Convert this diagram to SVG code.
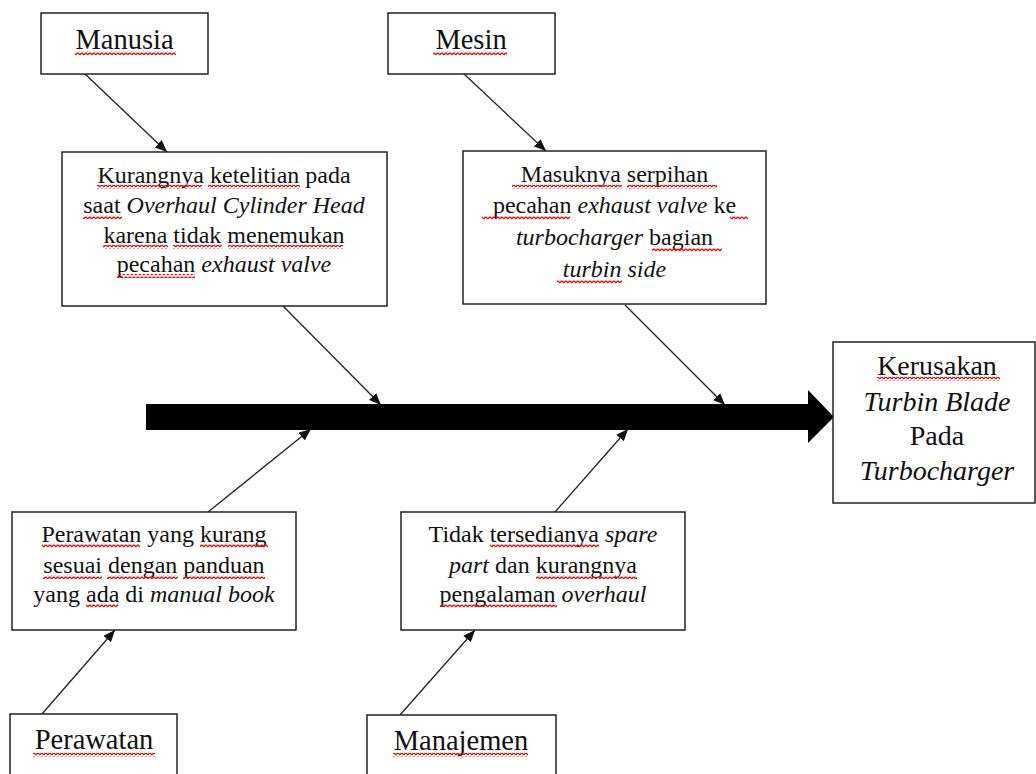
<svg xmlns="http://www.w3.org/2000/svg" width="1036" height="774" viewBox="0 0 1036 774">
<style>
.box{fill:#fff;stroke:#222;stroke-width:1.5}
.t{font-family:"Liberation Serif","Times New Roman",serif;fill:#111;text-anchor:middle}
.h{font-size:28.5px}
.b{font-size:24px}
.k{font-size:28px}
.i{font-style:italic}
.ln{stroke:#222;stroke-width:1.3;fill:none;marker-end:url(#ah)}
.sq{fill:url(#wave)}
</style>
<defs>
<marker id="ah" markerUnits="userSpaceOnUse" markerWidth="13" markerHeight="10" refX="12" refY="5" orient="auto">
<path d="M0,0 L12,5 L0,10 z" fill="#111"/>
</marker>
<pattern id="wave" patternUnits="userSpaceOnUse" width="4" height="4">
<path d="M0,3 L1,1.5 L2,1 L3,2 L4,3" stroke="#e01010" stroke-width="1.3" fill="none"/>
</pattern>
</defs>

<g id="connectors">
<polygon points="146,404 808,404 808,390 834,417 808,443 808,430 146,430" fill="#000"/>
<line class="ln" x1="84" y1="73" x2="167" y2="152"/>
<line class="ln" x1="463" y1="73" x2="546" y2="151"/>
<line class="ln" x1="283" y1="306" x2="381" y2="405"/>
<line class="ln" x1="625" y1="305" x2="725" y2="405"/>
<line class="ln" x1="208" y1="512" x2="311" y2="429"/>
<line class="ln" x1="555" y1="512" x2="628" y2="429"/>
<line class="ln" x1="42" y1="714" x2="115" y2="630"/>
<line class="ln" x1="400" y1="715" x2="475" y2="630"/>
</g>

<g id="manusia">
<rect class="box" x="41" y="13" width="167" height="61"/>
<text class="t h" x="124.5" y="49">Manusia</text>
<rect class="sq" x="75" y="51" width="101" height="4"/>
</g>

<g id="mesin">
<rect class="box" x="388" y="13" width="167" height="61"/>
<text class="t h" x="471" y="49">Mesin</text>
<rect class="sq" x="433" y="51" width="74" height="4"/>
</g>

<g id="kurangnya">
<rect class="box" x="62" y="152" width="325" height="154"/>
<text class="t b" x="224" y="183">Kurangnya ketelitian pada</text>
<text class="t b" x="224" y="213">saat <tspan class="i">Overhaul Cylinder Head</tspan></text>
<text class="t b" x="224" y="243">karena tidak menemukan</text>
<text class="t b" x="224" y="272">pecahan <tspan class="i">exhaust valve</tspan></text>
<rect class="sq" x="97" y="185" width="105" height="4"/>
<rect class="sq" x="208" y="185" width="92" height="4"/>
<rect class="sq" x="83" y="215" width="39" height="4"/>
<rect class="sq" x="103" y="245" width="65" height="4"/>
<rect class="sq" x="173" y="245" width="49" height="4"/>
<rect class="sq" x="228" y="245" width="115" height="4"/>
<rect class="sq" x="117" y="274" width="78" height="4"/>
</g>

<g id="masuknya">
<rect class="box" x="463" y="151" width="303" height="153"/>
<text class="t b" x="614.5" y="182">Masuknya serpihan</text>
<text class="t b" x="614.5" y="213">pecahan <tspan class="i">exhaust valve</tspan> ke</text>
<text class="t b" x="614.5" y="245"><tspan class="i">turbocharger</tspan> bagian</text>
<text class="t b i" x="614.5" y="277">turbin side</text>
<rect class="sq" x="512" y="185" width="110" height="4"/>
<rect class="sq" x="627" y="185" width="90" height="4"/>
<rect class="sq" x="482" y="216" width="88" height="4"/>
<rect class="sq" x="730" y="216" width="18" height="4"/>
<rect class="sq" x="652" y="248" width="70" height="4"/>
<rect class="sq" x="557" y="280" width="65" height="4"/>
</g>

<g id="kerusakan">
<rect class="box" x="833" y="342" width="202" height="161"/>
<text class="t k" x="937" y="375">Kerusakan</text>
<text class="t k i" x="937" y="411">Turbin Blade</text>
<text class="t k" x="937" y="445">Pada</text>
<text class="t k i" x="937" y="480">Turbocharger</text>
<rect class="sq" x="877" y="377" width="123" height="4"/>
</g>

<g id="perawatan-sebab">
<rect class="box" x="12" y="512" width="284" height="118"/>
<text class="t b" x="154" y="542">Perawatan yang kurang</text>
<text class="t b" x="154" y="573">sesuai dengan panduan</text>
<text class="t b" x="154" y="602">yang ada di <tspan class="i">manual book</tspan></text>
<rect class="sq" x="42" y="544" width="98" height="4"/>
<rect class="sq" x="200" y="544" width="68" height="4"/>
<rect class="sq" x="43" y="575" width="59" height="4"/>
<rect class="sq" x="107" y="575" width="71" height="4"/>
<rect class="sq" x="183" y="575" width="82" height="4"/>
<rect class="sq" x="86" y="604" width="32" height="4"/>
</g>

<g id="tidak">
<rect class="box" x="401" y="512" width="284" height="118"/>
<text class="t b" x="543" y="542">Tidak tersedianya <tspan class="i">spare</tspan></text>
<text class="t b" x="543" y="573"><tspan class="i">part</tspan> dan kurangnya</text>
<text class="t b" x="543" y="602">pengalaman <tspan class="i">overhaul</tspan></text>
<rect class="sq" x="490" y="544" width="109" height="4"/>
<rect class="sq" x="536" y="575" width="101" height="4"/>
<rect class="sq" x="440" y="604" width="117" height="4"/>
</g>

<g id="perawatan">
<rect class="box" x="10" y="714" width="167" height="70"/>
<text class="t h" x="94" y="749">Perawatan</text>
<rect class="sq" x="33" y="753" width="122" height="4"/>
</g>

<g id="manajemen">
<rect class="box" x="367" y="715" width="189" height="70"/>
<text class="t h" x="461" y="750">Manajemen</text>
<rect class="sq" x="393" y="753" width="135" height="4"/>
</g>
</svg>
